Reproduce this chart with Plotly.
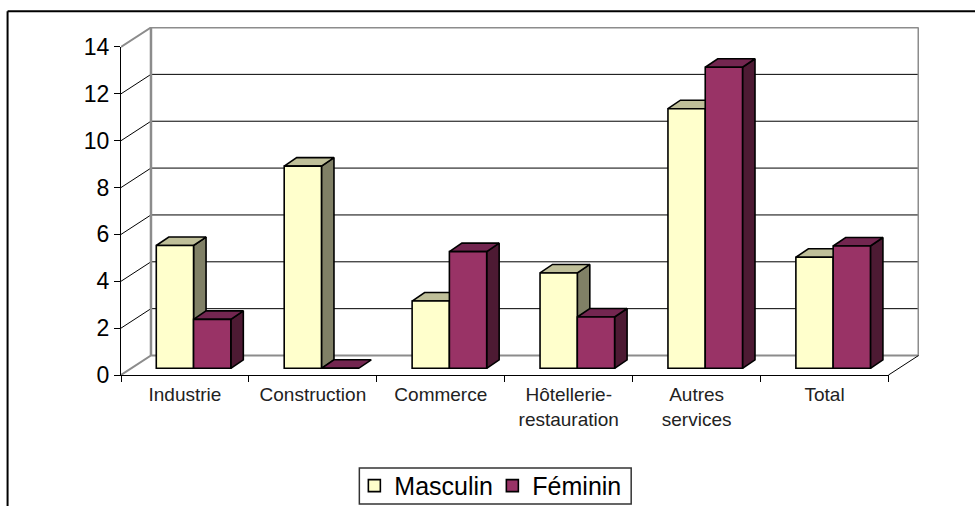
import plotly.graph_objects as go

categories = ["Industrie", "Construction", "Commerce", "Hôtellerie-<br>restauration", "Autres<br>services", "Total"]
masculin = [5.24, 8.63, 2.87, 4.07, 11.08, 4.74]
feminin = [2.09, 0.0, 4.98, 2.19, 12.85, 5.22]
y_ticks = [0, 2, 4, 6, 8, 10, 12, 14]

W, H = 975, 506
L, R, T, B = 120.5, 888.5, 46.7, 375.0
PX = (R - L) / 6
PY = (B - T) / 14
wall_dx, wall_dy = 30 / PX, 19.5 / PY
bar_dx, bar_dy = 8.6 / PX, 6.7 / PY
bar_w = 37.3 / PX
side_dx, side_dy = 12.5 / PX, 8.5 / PY
RW = R + 30.5   # right of the outer plotting frame
TW = T - 20     # top of the outer plotting frame
x_max = (RW - L) / PX
y_max = (B - TW) / PY

def px_x(p):
    return (p - L) / (RW - L)

def px_y(p):
    return (B - p) / (B - TW)

fig = go.Figure()

def poly(xs, ys, fill, line="black", width=1.6):
    fig.add_trace(go.Scatter(x=xs, y=ys, mode="lines", fill="toself" if fill else None,
                             fillcolor=fill, line=dict(color=line, width=width),
                             showlegend=False, hoverinfo="skip"))

GRAY = "#8c8c8c"
# walls
for v in y_ticks:
    c, w = (GRAY, 2) if v in (0, 14) else ("black", 1)
    poly([0, wall_dx, 6 + wall_dx], [v, v + wall_dy, v + wall_dy], None, c, w)
poly([wall_dx, wall_dx], [wall_dy, 14 + wall_dy], None, GRAY, 2.5)
poly([6 + wall_dx, 6 + wall_dx], [wall_dy, 14 + wall_dy], None, GRAY, 2)
poly([6, 6 + wall_dx], [0, wall_dy], None, "black", 1)

# side and top faces of the bars, back to front
def faces(left, v, top_c, side_c):
    right = left + bar_w
    y0, y1 = bar_dy, bar_dy + v
    if v > 0:
        poly([right, right + side_dx, right + side_dx, right, right],
             [y0, y0 + side_dy, y1 + side_dy, y1, y0], side_c)
    poly([left, left + side_dx, right + side_dx, right, left],
         [y1, y1 + side_dy, y1 + side_dy, y1, y1], top_c)

for i in range(len(categories)):
    cx = i + 0.5 + bar_dx
    faces(cx - bar_w, masculin[i], "#BFBF99", "#808066")
    faces(cx, feminin[i], "#732650", "#4D1A33")

# front faces: real bars on an overlay plane shifted to the bar depth
fig.add_trace(go.Bar(name="Masculin", x=categories, y=masculin, xaxis="x2", yaxis="y2",
                     marker=dict(color="#FFFFCC", line=dict(color="black", width=1.6))))
fig.add_trace(go.Bar(name="Féminin", x=categories, y=feminin, xaxis="x2", yaxis="y2",
                     marker=dict(color="#993366", line=dict(color="black", width=1.6))))
# invisible trace that keeps the front value and category axes on the page
fig.add_trace(go.Scatter(x=[0, 6], y=[0, 14], xaxis="x3", yaxis="y3", mode="none",
                         showlegend=False, hoverinfo="skip"))

font = "Liberation Sans, Arial, sans-serif"
fig.update_layout(
    width=W, height=H, autosize=False,
    margin=dict(l=L, r=W - RW, t=TW, b=H - B, pad=0, autoexpand=False),
    paper_bgcolor="white", plot_bgcolor="rgba(0,0,0,0)",
    barmode="group", bargap=1 - 2 * bar_w, bargroupgap=0,
    font=dict(family=font, color="black"),
    xaxis=dict(range=[0, x_max], visible=False),
    yaxis=dict(range=[0, y_max], visible=False),
    xaxis2=dict(overlaying="x", type="category", visible=False,
                categoryorder="array", categoryarray=categories,
                range=[-0.5 - bar_dx, -0.5 - bar_dx + x_max], anchor="y2"),
    yaxis2=dict(overlaying="y", visible=False, range=[-bar_dy, y_max - bar_dy], anchor="x2"),
    xaxis3=dict(domain=[0, px_x(R)], anchor="y3", type="linear", range=[0, 6], showgrid=False,
                zeroline=False, showline=True, linecolor="black", linewidth=1,
                tickmode="array", tickvals=[i + 0.5 for i in range(6)], ticktext=categories,
                ticks="", tickfont=dict(size=19, color="#222"), tickangle=0, ticklabelstandoff=2,
                minor=dict(tickmode="array", tickvals=list(range(7)), ticks="outside",
                           ticklen=6, tickcolor="black", tickwidth=1, showgrid=False)),
    yaxis3=dict(domain=[0, px_y(T)], anchor="x3", range=[0, 14], tickvals=y_ticks, showgrid=False,
                zeroline=False, showline=True, linecolor="black", linewidth=1, ticks="outside",
                ticklen=6, tickcolor="black", tickfont=dict(size=23, color="black")),
    legend=dict(orientation="h", xref="paper", yref="paper",
                x=px_x(354), xanchor="left", y=px_y(486), yanchor="middle",
                borderwidth=0, bgcolor="rgba(0,0,0,0)", entrywidth=93, entrywidthmode="pixels",
                font=dict(size=25, color="black"), itemclick=False, itemdoubleclick=False),
    shapes=[
        dict(type="rect", xref="paper", yref="paper", layer="below",
             x0=px_x(359), x1=px_x(631), y0=px_y(468), y1=px_y(504),
             fillcolor="white", line=dict(color="#333", width=1.5)),
        dict(type="line", xref="paper", yref="paper",
             x0=px_x(7), x1=px_x(W + 5), y0=px_y(11), y1=px_y(11), line=dict(color="black", width=2)),
        dict(type="line", xref="paper", yref="paper",
             x0=px_x(7), x1=px_x(7), y0=px_y(11), y1=px_y(H + 5), line=dict(color="black", width=2)),
    ],
)
fig.write_html("out.html", config=dict(displayModeBar=False),
               post_script="document.body.style.margin='0';document.body.style.overflow='hidden';")
